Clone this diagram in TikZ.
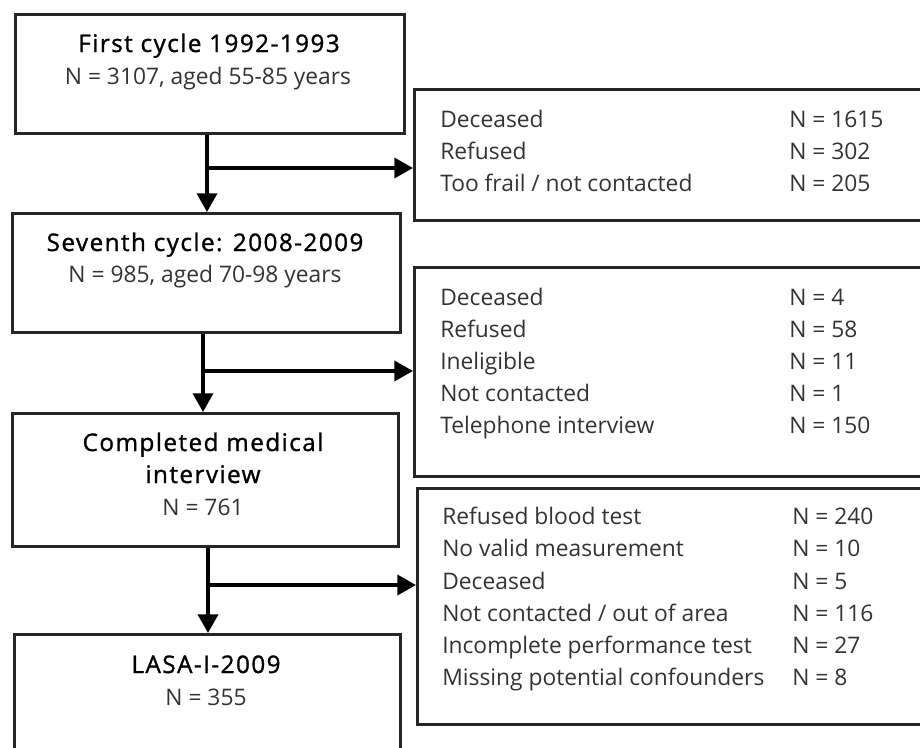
\documentclass[tikz,border=0pt]{standalone}
\usepackage{fontspec}
\setmainfont{Open Sans}
\newfontfamily\titlefont[LetterSpace=6,FakeBold=1.2]{Open Sans}
\usetikzlibrary{arrows.meta}
\begin{document}
\begin{tikzpicture}[x=0.75pt,y=-0.75pt,
  box/.style={draw=black!85, line width=2pt, anchor=north west, inner sep=0pt},
  arr/.style={draw=black, line width=2.8pt, -{Triangle[length=14pt,width=15pt]}},
  ttl/.style={anchor=base, inner sep=0pt, font=\titlefont\fontsize{18.2}{22}\selectfont, text=black},
  sub/.style={anchor=base, inner sep=0pt, font=\fontsize{17.1}{21}\selectfont, text=black!80},
  lbl/.style={anchor=base west, inner sep=0pt, font=\fontsize{17.1}{21}\selectfont, text=black!80}]
\clip (0,0) rectangle (920,747);
\fill[white] (0,0) rectangle (920,747);
% left boxes
\node[box, minimum width=291.75pt, minimum height=89.25pt] (b1) at (14,13) {};
\node[box, minimum width=291pt, minimum height=89.25pt] (b2) at (11,212) {};
\node[box, minimum width=289.5pt, minimum height=99.75pt] (b3) at (11,412) {};
\node[box, minimum width=289.5pt, minimum height=105pt] (b4) at (13,633) {};
% right boxes
\node[box, minimum width=402.75pt, minimum height=98.25pt] (r1) at (413,88) {};
\node[box, minimum width=402.75pt, minimum height=156.75pt] (r2) at (413,266) {};
\node[box, minimum width=400.5pt, minimum height=177pt] (r3) at (416,487) {};
% left texts
\node[ttl] (t1) at (209,52) {First cycle 1992-1993};
\node[sub] (s1) at (208,84) {N = 3107, aged 55-85 years};
\node[ttl] (t2) at (205,251) {Seventh cycle: 2008-2009};
\node[sub] (s2) at (205,282) {N = 985, aged 70-98 years};
\node[ttl] (t3a) at (203,451) {Completed medical};
\node[ttl] (t3b) at (203,483) {interview};
\node[sub] (s3) at (203,515) {N = 761};
\node[ttl] (t4) at (206,673) {LASA-I-2009};
\node[sub] (s4) at (206,705) {N = 355};
% right texts
\node[lbl] (a1) at (440,127) {Deceased};
\node[lbl] (a2) at (440,159) {Refused};
\node[lbl] (a3) at (440,191) {Too frail / not contacted};
\node[lbl] (n1) at (789,127) {N = 1615};
\node[lbl] (n2) at (789,159) {N = 302};
\node[lbl] (n3) at (789,191) {N = 205};
\node[lbl] (c1) at (440,305) {Deceased};
\node[lbl] (c2) at (440,337) {Refused};
\node[lbl] (c3) at (440,369) {Ineligible};
\node[lbl] (c4) at (440,401) {Not contacted};
\node[lbl] (c5) at (440,433) {Telephone interview};
\node[lbl] (m1) at (789,305) {N = 4};
\node[lbl] (m2) at (789,337) {N = 58};
\node[lbl] (m3) at (789,369) {N = 11};
\node[lbl] (m4) at (789,401) {N = 1};
\node[lbl] (m5) at (789,433) {N = 150};
\node[lbl] (d1) at (442,524) {Refused blood test};
\node[lbl] (d2) at (442,556) {No valid measurement};
\node[lbl] (d3) at (442,589) {Deceased};
\node[lbl] (d4) at (442,621) {Not contacted / out of area};
\node[lbl] (d5) at (442,653) {Incomplete performance test};
\node[lbl] (d6) at (442,685) {Missing potential confounders};
\node[lbl] (k1) at (792,524) {N = 240};
\node[lbl] (k2) at (792,556) {N = 10};
\node[lbl] (k3) at (792,589) {N = 5};
\node[lbl] (k4) at (792,621) {N = 116};
\node[lbl] (k5) at (792,653) {N = 27};
\node[lbl] (k6) at (792,685) {N = 8};
% connectors
\coordinate (j1) at (207,168);
\coordinate (j2) at (203,371);
\coordinate (j3) at (208,585);
\draw[arr] (j1 |- b1.south) -- (j1 |- b2.north);
\draw[arr] (j1) -- (j1 -| r1.west);
\draw[arr] (j2 |- b2.south) -- (j2 |- b3.north);
\draw[arr] (j2) -- (j2 -| r2.west);
\draw[arr] (j3 |- b3.south) -- (j3 |- b4.north);
\draw[arr] (j3) -- (j3 -| r3.west);
\end{tikzpicture}
\end{document}
